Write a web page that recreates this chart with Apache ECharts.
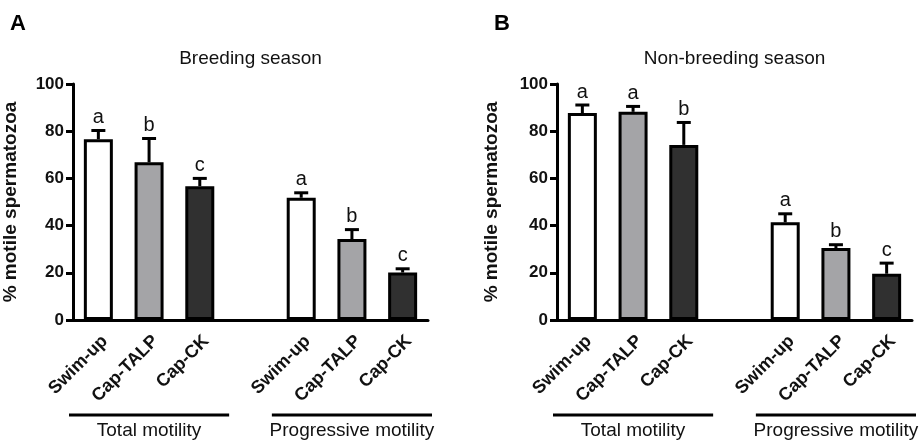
<!DOCTYPE html>
<html>
<head>
<meta charset="utf-8">
<script src="https://cdn.jsdelivr.net/npm/echarts@6/dist/echarts.min.js"></script>
<style>
  html, body { margin: 0; background: #fff; }
  #chart { width: 919px; height: 440px; }
</style>
</head>
<body>
<div id="chart"></div>
<script>
// categories (one empty slot separates the two groups)
const slots = ['Swim-up', 'Cap-TALP', 'Cap-CK', '', 'Swim-up', 'Cap-TALP', 'Cap-CK']
const groupNames = ['Total motility', 'Progressive motility']
const groupSlots = [[0, 2], [4, 6]]
const panelTitles = ['Breeding season', 'Non-breeding season']
const panelLetters = ['A', 'B']
const yTicks = [0, 20, 40, 60, 80, 100]

// values (mean, upper SEM)
const breedMean = [76.6, 66.8, 56.7, null, 51.8, 34.3, 20.1]
const breedErr = [3.7, 10.1, 3.3, null, 2.1, 4.0, 1.6]
const breedLetters = ['a', 'b', 'c', '', 'a', 'b', 'c']
const nonBreedMean = [87.7, 88.2, 74.2, null, 41.4, 30.5, 19.6]
const nonBreedErr = [3.4, 2.3, 9.5, null, 3.6, 1.4, 4.5]
const nonBreedLetters = ['a', 'a', 'b', '', 'a', 'b', 'c']

const fills = ['#ffffff', '#a4a4a7', '#303030', '#ffffff', '#ffffff', '#a4a4a7', '#303030']
const FONT = '"Liberation Sans", Arial, Helvetica, sans-serif'

const panels = [
  { mean: breedMean, err: breedErr, letters: breedLetters, left: 73, nameGap: 53 },
  { mean: nonBreedMean, err: nonBreedErr, letters: nonBreedLetters, left: 557, nameGap: 56 },
]

const chart = echarts.init(document.getElementById('chart'))

const grids = panels.map(p => ({ left: p.left, top: 84, width: 355, height: 236 }))

const xAxes = panels.map((p, g) => ({
  type: 'category',
  gridIndex: g,
  data: slots.map((s, i) => String(i)),
  boundaryGap: true,
  axisLine: { lineStyle: { color: '#000', width: 3 } },
  axisTick: {
    alignWithLabel: true,
    interval: (i) => slots[i] !== '',
    length: 6,
    lineStyle: { color: '#000', width: 3 },
  },
  axisLabel: {
    interval: 0,
    rotate: 45,
    margin: 12,
    verticalAlign: 'top',
    formatter: (v) => slots[+v],
    color: '#111',
    fontFamily: FONT,
    fontWeight: 'bold',
    fontSize: 18,
  },
  splitLine: { show: false },
}))

const yAxes = panels.map((p, g) => ({
  type: 'value',
  gridIndex: g,
  min: yTicks[0],
  max: yTicks[yTicks.length - 1],
  interval: 20,
  name: '% motile spermatozoa',
  nameLocation: 'middle',
  nameGap: p.nameGap,
  nameRotate: 90,
  nameTextStyle: { color: '#111', fontFamily: FONT, fontWeight: 'bold', fontSize: 19 },
  axisLine: { show: true, lineStyle: { color: '#000', width: 3 } },
  axisTick: { show: true, length: 7, lineStyle: { color: '#000', width: 3 } },
  axisLabel: { margin: 9, color: '#111', fontFamily: FONT, fontWeight: 'bold', fontSize: 17 },
  splitLine: { show: false },
}))

const series = []
panels.forEach((p, g) => {
  series.push({
    type: 'bar',
    xAxisIndex: g,
    yAxisIndex: g,
    barWidth: 29,
    data: p.mean.map((v, i) => ({
      value: v == null ? '-' : v,
      itemStyle: { color: fills[i], borderColor: '#000', borderWidth: 3 },
    })),
    animation: false,
  })
  const errData = p.mean
    .map((v, i) => (v == null ? null : [i, v, p.err[i]]))
    .filter(Boolean)
  series.push({
    type: 'custom',
    xAxisIndex: g,
    yAxisIndex: g,
    data: errData,
    encode: { x: 0, y: 1 },
    z: 5,
    animation: false,
    renderItem: (params, api) => {
      const i = api.value(0)
      const m = api.value(1)
      const e = api.value(2)
      const base = api.coord([i, m])
      const top = api.coord([i, m + e])
      return {
        type: 'group',
        children: [
          { type: 'line', shape: { x1: base[0], y1: base[1], x2: top[0], y2: top[1] }, style: { stroke: '#000', lineWidth: 3 } },
          { type: 'line', shape: { x1: top[0] - 7, y1: top[1], x2: top[0] + 7, y2: top[1] }, style: { stroke: '#000', lineWidth: 3 } },
          {
            type: 'text',
            x: top[0],
            y: top[1] - 3,
            style: {
              text: p.letters[i],
              fill: '#111',
              font: '20px ' + FONT,
              align: 'center',
              verticalAlign: 'bottom',
            },
          },
        ],
      }
    },
  })
})

chart.setOption({
  backgroundColor: '#fff',
  animation: false,
  grid: grids,
  xAxis: xAxes,
  yAxis: yAxes,
  series: series,
})

// annotations placed from the axes' own scales
const graphics = []
panels.forEach((p, g) => {
  const c0 = chart.convertToPixel({ gridIndex: g }, [0, 100])
  const c6 = chart.convertToPixel({ gridIndex: g }, [6, 0])
  const band = chart.convertToPixel({ gridIndex: g }, [1, 0])[0] - chart.convertToPixel({ gridIndex: g }, [0, 0])[0]
  const midX = (c0[0] + c6[0]) / 2
  graphics.push({
    type: 'text', x: midX, y: 59,
    style: { text: panelTitles[g], fill: '#111', font: '19px ' + FONT, align: 'center', verticalAlign: 'middle' },
  })
  graphics.push({
    type: 'text', x: p.left - 63, y: 24,
    style: { text: panelLetters[g], fill: '#000', font: 'bold 22px ' + FONT, align: 'left', verticalAlign: 'middle' },
  })
  groupSlots.forEach((sl, k) => {
    const a = chart.convertToPixel({ gridIndex: g }, [sl[0], 0])[0] - band / 2 - 4
    const b = chart.convertToPixel({ gridIndex: g }, [sl[1], 0])[0] + band / 2 + 4
    graphics.push({
      type: 'line', shape: { x1: a, y1: 415, x2: b, y2: 415 },
      style: { stroke: '#000', lineWidth: 3 },
    })
    graphics.push({
      type: 'text', x: (a + b) / 2, y: 431,
      style: { text: groupNames[k], fill: '#111', font: '19px ' + FONT, align: 'center', verticalAlign: 'middle' },
    })
  })
})
chart.setOption({ graphic: graphics })
</script>
</body>
</html>
